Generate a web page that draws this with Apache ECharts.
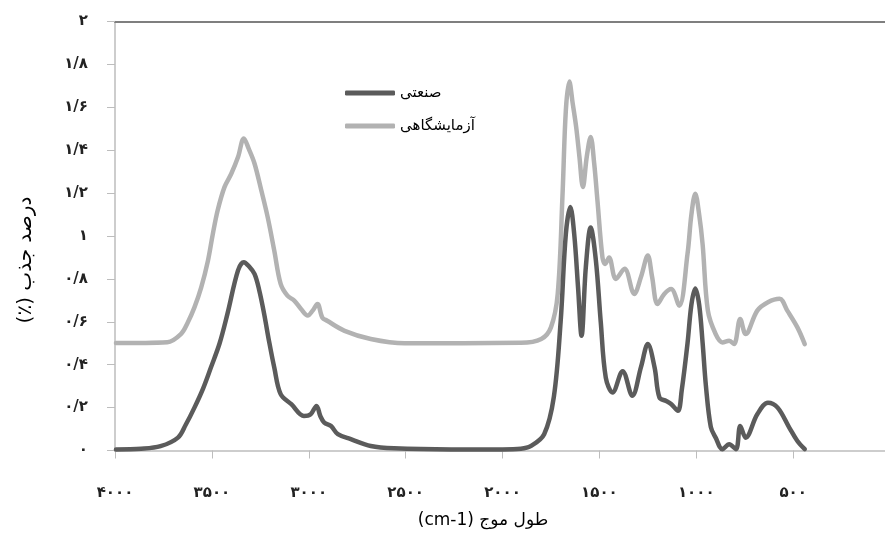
<!DOCTYPE html>
<html>
<head>
<meta charset="utf-8">
<script src="https://cdn.jsdelivr.net/npm/echarts@6/dist/echarts.min.js"></script>
<style>
  html, body { margin: 0; padding: 0; background: #fff; }
  #chart { width: 885px; height: 537px; }
</style>
</head>
<body>
<div id="chart" dir="rtl"></div>
<script>
// Absorption spectra: industrial vs. laboratory sample (wavenumber in cm-1, absorbance %)
const industrialWavenumbers = [3995, 3865, 3765, 3675, 3635, 3590, 3545, 3505, 3460, 3420, 3365, 3335, 3310, 3280, 3255, 3230, 3205, 3178, 3145, 3090, 3025, 2990, 2960, 2940, 2920, 2885, 2850, 2780, 2680, 2560, 2265, 2000, 1905, 1855, 1785, 1735, 1700, 1673, 1650, 1630, 1610, 1592, 1570, 1545, 1518, 1493, 1467, 1432, 1380, 1330, 1285, 1250, 1215, 1190, 1155, 1130, 1095, 1075, 1045, 1025, 1005, 985, 967, 950, 925, 900, 865, 830, 795, 773, 745, 685, 630, 580, 520, 478, 440];
const industrialValues = [0.005, 0.008, 0.02, 0.06, 0.12, 0.2, 0.29, 0.387, 0.5, 0.636, 0.84, 0.878, 0.86, 0.823, 0.745, 0.636, 0.51, 0.387, 0.263, 0.216, 0.161, 0.169, 0.208, 0.16, 0.13, 0.114, 0.076, 0.052, 0.021, 0.01, 0.005, 0.005, 0.008, 0.02, 0.076, 0.25, 0.6, 1.01, 1.135, 1.01, 0.76, 0.535, 0.854, 1.04, 0.886, 0.6, 0.34, 0.27, 0.37, 0.255, 0.39, 0.496, 0.387, 0.247, 0.231, 0.217, 0.185, 0.28, 0.5, 0.68, 0.755, 0.68, 0.5, 0.3, 0.11, 0.06, 0.006, 0.029, 0.006, 0.114, 0.06, 0.169, 0.223, 0.2, 0.107, 0.044, 0.006];

const labWavenumbers = [3995, 3730, 3660, 3625, 3590, 3555, 3520, 3495, 3470, 3435, 3400, 3365, 3335, 3310, 3280, 3245, 3212, 3178, 3145, 3110, 3075, 3040, 3005, 2980, 2955, 2930, 2905, 2815, 2680, 2505, 1905, 1800, 1750, 1715, 1690, 1673, 1655, 1638, 1620, 1603, 1585, 1565, 1545, 1527, 1510, 1484, 1470, 1450, 1415, 1370, 1320, 1285, 1250, 1228, 1200, 1165, 1130, 1088, 1045, 1025, 1005, 985, 967, 940, 900, 865, 830, 805, 773, 745, 685, 630, 570, 530, 478, 440];
const labValues = [0.501, 0.505, 0.543, 0.596, 0.667, 0.76, 0.886, 1.01, 1.12, 1.228, 1.29, 1.368, 1.455, 1.407, 1.338, 1.213, 1.088, 0.932, 0.777, 0.722, 0.699, 0.66, 0.629, 0.652, 0.683, 0.62, 0.605, 0.558, 0.52, 0.5, 0.502, 0.52, 0.574, 0.73, 1.197, 1.587, 1.72, 1.62, 1.509, 1.37, 1.228, 1.37, 1.462, 1.34, 1.166, 0.9, 0.87, 0.9, 0.8, 0.847, 0.73, 0.81, 0.909, 0.81, 0.683, 0.73, 0.753, 0.675, 0.917, 1.1, 1.197, 1.1, 0.96, 0.652, 0.543, 0.504, 0.512, 0.496, 0.613, 0.543, 0.652, 0.691, 0.707, 0.652, 0.574, 0.496];

const seriesNames = ['صنعتی', 'آزمایشگاهی'];

const xTicks = [4000, 3500, 3000, 2500, 2000, 1500, 1000, 500, 0];
const xTickLabels = ['۴۰۰۰', '۳۵۰۰', '۳۰۰۰', '۲۵۰۰', '۲۰۰۰', '۱۵۰۰', '۱۰۰۰', '۵۰۰', '۰'];
const yTicks = [0, 0.2, 0.4, 0.6, 0.8, 1, 1.2, 1.4, 1.6, 1.8, 2];
const yTickLabels = ['۰', '۰/۲', '۰/۴', '۰/۶', '۰/۸', '۱', '۱/۲', '۱/۴', '۱/۶', '۱/۸', '۲'];

const xAxisTitle = 'طول موج (cm-1)';
const yAxisTitle = 'درصد جذب (٪)';

const FONT = 'DejaVu Sans';

function pairs(xs, ys) {
  return xs.map((x, i) => [x, ys[i]]);
}
function lookup(ticks, labels, v) {
  const i = ticks.findIndex(t => Math.abs(t - v) < 1e-6);
  return i >= 0 ? labels[i] : '';
}

const chart = echarts.init(document.getElementById('chart'), null, { renderer: 'canvas' });

chart.setOption({
  animation: false,
  backgroundColor: '#ffffff',
  grid: { left: 115, right: -5, top: 21.5, bottom: 86.5, containLabel: false, outerBoundsMode: 'none' },
  legend: {
    left: 340,
    top: 78,
    orient: 'vertical',
    itemWidth: 50,
    itemHeight: 5,
    itemGap: 13,
    icon: 'roundRect',
    data: seriesNames,
    textStyle: { fontFamily: FONT, fontSize: 15, color: '#000', lineHeight: 20 }
  },
  xAxis: [
    {
      type: 'value',
      inverse: true,
      min: 0,
      max: 4000,
      interval: 500,
      axisLine: { show: true, onZero: false, lineStyle: { color: '#bdbdbd', width: 1.5 } },
      axisTick: { show: true, length: 8, lineStyle: { color: '#bdbdbd', width: 1 } },
      splitLine: { show: false },
      axisLabel: {
        margin: 35,
        fontFamily: FONT,
        fontSize: 15,
        fontWeight: 'bold',
        color: '#222',
        formatter: v => lookup(xTicks, xTickLabels, v)
      }
    },
    {
      type: 'value',
      position: 'top',
      inverse: true,
      min: 0,
      max: 4000,
      axisLine: { show: true, onZero: false, lineStyle: { color: '#7f7f7f', width: 2 } },
      axisTick: { show: false },
      axisLabel: { show: false },
      splitLine: { show: false }
    }
  ],
  yAxis: {
    type: 'value',
    min: 0,
    max: 2,
    interval: 0.2,
    axisLine: { show: true, onZero: false, lineStyle: { color: '#bdbdbd', width: 1.5 } },
    axisTick: { show: true, length: 8, lineStyle: { color: '#bdbdbd', width: 1 } },
    splitLine: { show: false },
    axisLabel: {
      margin: 27,
      fontFamily: FONT,
      fontSize: 15,
      fontWeight: 'bold',
      color: '#222',
      formatter: v => lookup(yTicks, yTickLabels, v)
    }
  },
  graphic: [
    {
      type: 'text',
      x: 483,
      y: 521,
      style: {
        text: xAxisTitle,
        fontFamily: FONT,
        fontSize: 17,
        fill: '#000',
        align: 'center',
        verticalAlign: 'middle'
      }
    },
    {
      type: 'text',
      x: 26,
      y: 260,
      rotation: Math.PI / 2,
      style: {
        text: yAxisTitle,
        fontFamily: FONT,
        fontSize: 20,
        fill: '#000',
        align: 'center',
        verticalAlign: 'middle'
      }
    }
  ],
  series: [
    {
      name: seriesNames[0],
      type: 'line',
      data: pairs(industrialWavenumbers, industrialValues),
      smooth: 0.35,
      symbol: 'none',
      lineStyle: { color: '#5b5b5b', width: 4.5, cap: 'round', join: 'round' },
      itemStyle: { color: '#5b5b5b' },
      z: 3
    },
    {
      name: seriesNames[1],
      type: 'line',
      data: pairs(labWavenumbers, labValues),
      smooth: 0.35,
      symbol: 'none',
      lineStyle: { color: '#b2b2b2', width: 4.5, cap: 'round', join: 'round' },
      itemStyle: { color: '#b2b2b2' },
      z: 2
    }
  ]
});
</script>
</body>
</html>
